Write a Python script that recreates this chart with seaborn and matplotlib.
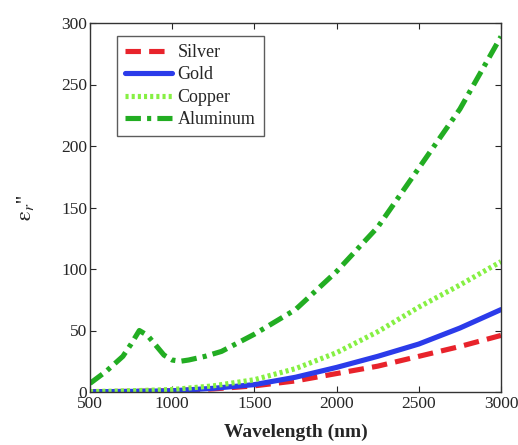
import matplotlib
matplotlib.use('Agg')
import matplotlib.pyplot as plt
import seaborn as sns
import pandas as pd

# data
wl = [500, 750, 1000, 1250, 1500, 1750, 2000, 2250, 2500, 2750, 3000]
silver = [0.3, 0.5, 1, 2.5, 5, 9, 15, 21, 29, 37, 46]
gold = [0.2, 0.5, 1, 3, 6, 12, 20, 29, 39, 52, 67]
copper = [0.3, 1, 2, 5, 10, 19, 32, 49, 69, 87, 106]

wl_al = [500, 600, 700, 750, 800, 850, 900, 950, 1000, 1050, 1100, 1200,
         1300, 1400, 1500, 1750, 2000, 2250, 2500, 2750, 3000]
aluminum = [7, 17, 29, 39, 50, 46, 38, 30, 26, 25, 26, 29,
            33, 40, 47, 67, 98, 134, 182, 230, 289]

sns.set_style('ticks')
plt.rcParams['font.family'] = ['Liberation Serif', 'DejaVu Serif']
plt.rcParams['mathtext.fontset'] = 'stix'

fig = plt.figure(figsize=(5.18, 4.45), dpi=100)
ax = fig.add_axes([90/518, 1-392/445, (501-90)/518, (392-23)/445])

series = [
    ('Silver', wl, silver, '#e8232b', (0, (3, 1.6))),
    ('Gold', wl, gold, '#2b3bea', '-'),
    ('Copper', wl, copper, '#86f043', (0, (0.6, 0.6))),
    ('Aluminum', wl_al, aluminum, '#22ad22', (0, (3, 1.2, 0.8, 1.2))),
]
for name, x, y, c, ls in series:
    df = pd.DataFrame({'wl': x, 'v': y})
    sns.lineplot(data=df, x='wl', y='v', ax=ax, color=c, linestyle=ls,
                 linewidth=3.7, label=name)

ax.set_xlim(500, 3000)
ax.set_ylim(0, 300)
ax.set_xticks([500, 1000, 1500, 2000, 2500, 3000])
ax.set_yticks([0, 50, 100, 150, 200, 250, 300])
ax.tick_params(direction='in', top=True, right=True, labelsize=12.5, length=4, pad=2)
ax.tick_params(axis='x', pad=3)
for s in ax.spines.values():
    s.set_color('#333333')
    s.set_linewidth(1.0)

ax.set_xlabel('Wavelength (nm)', fontsize=14, fontweight='bold', labelpad=8)
ax.set_ylabel(r"$\mathrm{\epsilon}_r$''", fontsize=16, labelpad=18)

leg = ax.legend(loc='upper left', bbox_to_anchor=(0.066, 0.965), borderaxespad=0,
                fontsize=13, handlelength=2.6, handletextpad=0.3,
                frameon=True, fancybox=False, edgecolor='#333333',
                labelspacing=0.3, borderpad=0.45)
leg.get_frame().set_linewidth(1.0)

fig.savefig('out.png', dpi=100)
